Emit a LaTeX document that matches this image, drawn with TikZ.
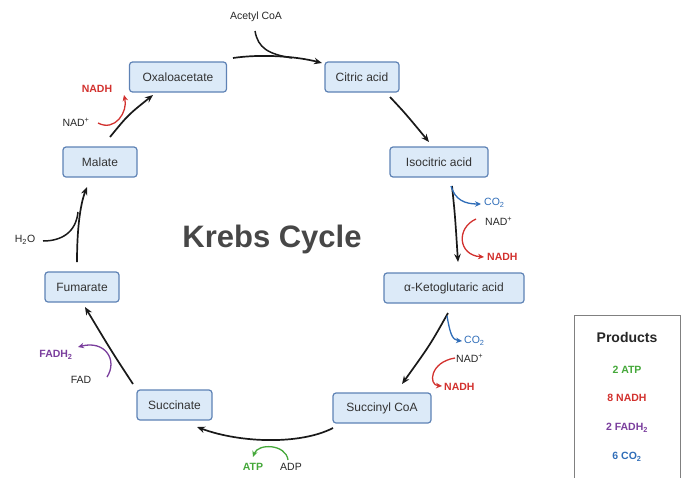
\documentclass[tikz,border=0pt]{standalone}
\usepackage{fontspec}
\setmainfont{Liberation Sans}
\usetikzlibrary{arrows.meta}
\definecolor{boxfill}{HTML}{DCEAF8}
\definecolor{boxdraw}{HTML}{5E82B5}
\definecolor{nred}{HTML}{D2312E}
\definecolor{ngreen}{HTML}{45A83A}
\definecolor{npurple}{HTML}{7A3E9D}
\definecolor{nblue}{HTML}{2F6DB8}
\definecolor{titlegray}{HTML}{474747}
\begin{document}
\begin{tikzpicture}[x=1pt,y=-1pt,
 mol/.style={draw=boxdraw, fill=boxfill, line width=1.2pt, rounded corners=3pt, minimum height=30pt, inner sep=0pt, font=\fontsize{12}{14}\selectfont, text=black!80},
 lbl/.style={font=\fontsize{10.5}{12}\selectfont, inner sep=0pt, text=black!85},
 blbl/.style={font=\fontsize{10.5}{12}\selectfont\bfseries, inner sep=0pt},
 main/.style={line width=1.7pt, black!90, -{Stealth[length=8pt,width=6.5pt]}},
 feed/.style={line width=1.5pt, black!90},
 side/.style={line width=1.3pt, -{Stealth[length=6pt,width=5.5pt]}},
 ]
\useasboundingbox (0,0) rectangle (687,477);
% boxes
\node[mol,minimum width=97pt] (oxa) at (178,77) {Oxaloacetate};
\node[mol,minimum width=74pt] (cit) at (362,77) {Citric acid};
\node[mol,minimum width=98pt] (iso) at (439,162) {Isocitric acid};
\node[mol,minimum width=140pt] (akg) at (454,288) {α-Ketoglutaric acid};
\node[mol,minimum width=98pt] (scoa) at (382,408) {Succinyl CoA};
\node[mol,minimum width=75pt] (succ) at (174.5,405) {Succinate};
\node[mol,minimum width=74pt] (fum) at (82,287) {Fumarate};
\node[mol,minimum width=74pt] (mal) at (100,162) {Malate};
% title
\node[font=\fontsize{31}{34}\selectfont\bfseries, text=titlegray, anchor=base, inner sep=0pt] (title) at (272,247) {Krebs Cycle};
% products
\node[draw=black!50, line width=1pt, minimum width=106pt, minimum height=170pt, anchor=north west, inner sep=0pt] (prod) at (574,315) {};
\node[font=\fontsize{14}{16}\selectfont\bfseries, text=black!85, inner sep=0pt] (ptitle) at (627,337) {Products};
\node[blbl, text=ngreen] (p1) at (627,370) {2 ATP};
\node[blbl, text=nred] (p2) at (627,398) {8 NADH};
\node[blbl, text=npurple] (p3) at (627,428) {2 FADH\textsubscript{2}};
\node[blbl, text=nblue] (p4) at (627,457) {6 CO\textsubscript{2}};
% coordinates for arrows
\coordinate (a1) at (233,58); \coordinate (a2) at (322,63);
\coordinate (b1) at (390,97); \coordinate (b2) at (429,142);
\coordinate (c1) at (452,186); \coordinate (c2) at (458,262);
\coordinate (d1) at (448,313); \coordinate (d2) at (402,384);
\coordinate (e1) at (333,428); \coordinate (e2) at (197,427);
\coordinate (f1) at (133,384); \coordinate (f2) at (85,307);
\coordinate (g1) at (77,262); \coordinate (g2) at (87,187);
\coordinate (h1) at (110,137); \coordinate (h2) at (153,95);
% labels
\node[lbl] (acoa) at (256,17) {Acetyl CoA};
\node[lbl] (h2o) at (25,240) {H\textsubscript{2}O};
\node[lbl] (nad1) at (76,122) {NAD\textsuperscript{+}};
\node[blbl, text=nred] (nadh1) at (97,89) {NADH};
\node[lbl, text=nblue, anchor=west] (co21) at (484,203) {CO\textsubscript{2}};
\node[lbl, anchor=west] (nad2) at (485,221) {NAD\textsuperscript{+}};
\node[blbl, text=nred, anchor=west] (nadh2) at (487,257) {NADH};
\node[lbl, text=nblue, anchor=west] (co22) at (464,341) {CO\textsubscript{2}};
\node[lbl, anchor=west] (nad3) at (456,358) {NAD\textsuperscript{+}};
\node[blbl, text=nred, anchor=west] (nadh3) at (444,387) {NADH};
\node[blbl, text=ngreen] (atp) at (253,467) {ATP};
\node[lbl] (adp) at (291,467) {ADP};
\node[blbl, text=npurple] (fadh) at (56,355) {FADH\textsubscript{2}};
\node[lbl] (fad) at (81,380) {FAD};
% main cycle arrows
\draw[main] (a1) .. controls (260,54) and (295,56) .. (a2);
\draw[feed] (255,31) .. controls (258,48) and (268,54) .. (292,58);
\draw[main] (b1) .. controls (405,113) .. (b2);
\draw[main] (c1) .. controls (455,215) .. (c2);
\draw[main] (d1) .. controls (430,345) .. (d2);
\draw[main] (e1) .. controls (300,445) and (240,443) .. (e2);
\draw[main] (f1) .. controls (112,352) .. (f2);
\draw[main] (g1) .. controls (77,230) and (80,205) .. (g2);
\draw[feed] (43,241) .. controls (62,241) and (76,232) .. (78,212);
\draw[main] (h1) .. controls (128,115) .. (h2);
% side reactions
\draw[side, nred] (98,123) .. controls (115,132) and (128,112) .. (124,95);
\draw[side, nblue] (451,186) .. controls (455,200) and (465,204) .. (481,204);
\draw[side, nred] (476,219) .. controls (456,228) and (458,255) .. (484,257);
\draw[side, nblue] (447,316) .. controls (450,333) and (452,340) .. (462,341);
\draw[side, nred] (455,358) .. controls (430,362) and (428,385) .. (442,386);
\draw[side, ngreen] (288,460) .. controls (286,444) and (258,443) .. (253,457);
\draw[side, npurple] (107,377) .. controls (118,360) and (105,340) .. (78,347);
\end{tikzpicture}
\end{document}
